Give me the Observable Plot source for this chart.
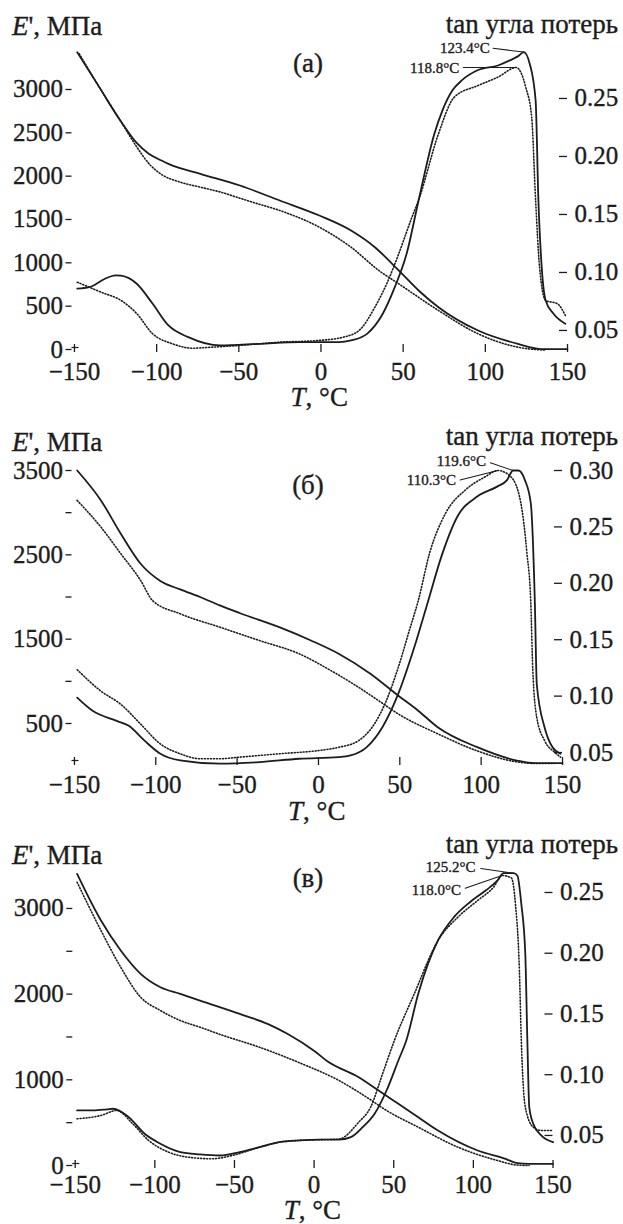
<!DOCTYPE html>
<html><head><meta charset="utf-8">
<script src="https://cdn.jsdelivr.net/npm/d3@7"></script>
<script src="https://cdn.jsdelivr.net/npm/@observablehq/plot@0.6"></script>
<style>
body{margin:0;background:#fff;}
#fig{position:relative;width:623px;height:1224px;font-family:"Liberation Serif","Times New Roman",serif;color:#1c1c1c;overflow:hidden;background:#fff}
.panel{position:absolute;left:0;width:623px}
.panel svg{position:absolute;left:0;top:0}
.panel svg text{stroke:#1c1c1c;stroke-width:0.35px}
.lbl{position:absolute;white-space:nowrap;line-height:1;font-size:27px;-webkit-text-stroke:0.35px #1c1c1c}
</style></head><body><div id="fig"></div>
<script>
// ---------- shared ticks ----------
const xTicks = [-150, -100, -50, 0, 50, 100, 150];

// ---------- panel (а) ----------
const a_E_solid = [[-148.3,3430],[-135,3030],[-121.7,2630],[-112,2380],[-104.8,2258],[-97,2180],[-92.8,2142],[-73.4,2027],[-49.3,1892],[-25.1,1719],[-1,1546],[18.3,1373],[32.8,1180],[47.3,912],[59.4,681],[71.5,488],[95.6,219],[119.8,65],[134.3,5],[150,5]];
const a_E_dot = [[-147.1,3412],[-135,3030],[-121.7,2630],[-112,2334],[-104,2130],[-97.6,2027],[-85.5,1930],[-73.4,1873],[-59,1805],[-51.7,1760],[-40,1690],[-25.1,1604],[-1,1411],[18.3,1180],[35.2,912],[47.3,758],[71.5,450],[95.6,181],[119.8,27],[130,0],[136,-5]];
const a_tan_solid = [[-148.3,0.086],[-141,0.0873],[-131.4,0.0946],[-125,0.0975],[-121.7,0.0972],[-112.1,0.0903],[-102.4,0.073],[-92.8,0.0543],[-80.7,0.0442],[-61.4,0.0371],[-37.2,0.0385],[-13.1,0.0399],[11.1,0.0399],[18.3,0.0414],[28,0.0471],[37.6,0.0644],[44.9,0.0873],[52.1,0.1161],[59.4,0.1621],[69,0.2196],[74,0.240],[80,0.257],[86,0.266],[95.6,0.2745],[107.7,0.2784],[114.9,0.2828],[120,0.2865],[123.4,0.290],[127,0.280],[130.6,0.2483],[132.3,0.162],[134.3,0.1046],[136.7,0.0759],[141.5,0.0644],[148.7,0.0558]];
const a_tan_dot = [[-148.3,0.0916],[-133.8,0.083],[-121.7,0.0759],[-112,0.0644],[-102.4,0.0471],[-90.3,0.0385],[-78.3,0.0347],[-66.2,0.0356],[-49.3,0.0371],[-25.1,0.0399],[-1,0.0414],[13.5,0.0442],[23.2,0.05],[32.8,0.0701],[40,0.0903],[47.3,0.1161],[54.6,0.1448],[60,0.165],[71.5,0.2196],[81.1,0.2511],[95.6,0.2612],[107.7,0.2684],[118.8,0.2767],[124.6,0.2597],[128.2,0.2339],[130.6,0.162],[133,0.1046],[136.7,0.0759],[143.9,0.073],[148.7,0.0629]];
const a_peaks = [{label:"123.4°C", T:123.4, v:0.290}, {label:"118.8°C", T:118.8, v:0.2767}];
const a_Eticks = [0, 500, 1000, 1500, 2000, 2500, 3000];
const a_Elabels = [0, 500, 1000, 1500, 2000, 2500, 3000];
const a_tanTicks = [0.05, 0.10, 0.15, 0.20, 0.25];

// ---------- panel (б) ----------
const b_E_solid = [[-148.3,3500],[-133.7,3145],[-121.5,2750],[-109.3,2394],[-97.2,2190],[-85,2090],[-72.8,2000],[-60.6,1900],[-48.5,1810],[-24.1,1642],[-4.6,1484],[12.4,1327],[31.9,1090],[48.9,832],[61.1,655],[73.3,456],[97.6,219],[122,61],[133,30],[150,30]];
const b_E_dot = [[-148.3,3145],[-133.7,2828],[-121.5,2513],[-109.3,2196],[-102,1959],[-85,1801],[-60.6,1642],[-36.3,1484],[-11.9,1327],[7.5,1129],[24.6,930],[36.8,773],[48.9,615],[73.3,378],[97.6,175],[122,45],[135,25],[145,25]];
const b_tan_solid = [[-148.3,0.0987],[-138.6,0.0868],[-124,0.0781],[-116.6,0.0737],[-106.9,0.0605],[-97.2,0.0489],[-85,0.043],[-60.6,0.0401],[-36.3,0.0415],[-11.9,0.0445],[12.4,0.0459],[19.7,0.0474],[29.5,0.0546],[39.2,0.0722],[48.9,0.1015],[58.7,0.1424],[67.2,0.1833],[75.7,0.2243],[85.5,0.2594],[97.6,0.2769],[109.8,0.2857],[115.9,0.2915],[119.6,0.300],[123,0.300],[126.9,0.2915],[130.5,0.2711],[133,0.1833],[134.2,0.1103],[139,0.0722],[143.9,0.0546],[148.8,0.0489]];
const b_tan_dot = [[-148.3,0.1234],[-133.7,0.1044],[-121.5,0.0927],[-109.3,0.0752],[-97.2,0.0576],[-85,0.0489],[-72.8,0.0445],[-60.6,0.0445],[-48.5,0.0459],[-24.1,0.0489],[0.2,0.0518],[12.4,0.0546],[24.6,0.0605],[34.3,0.0752],[41.6,0.0956],[48.9,0.1248],[56.2,0.1599],[61.1,0.1833],[68.4,0.2272],[78.2,0.2623],[90.3,0.2827],[102.5,0.2944],[110.3,0.300],[118.3,0.2944],[124.4,0.2711],[128.1,0.2272],[130.5,0.1833],[131.7,0.1248],[134.2,0.081],[139,0.0605],[145.1,0.0503],[148.8,0.0459]];
const b_peaks = [{label:"119.6°C", T:119.6, v:0.300}, {label:"110.3°C", T:110.3, v:0.300}];
const b_Eticks = [500, 1000, 1500, 2000, 2500, 3000, 3500];
const b_Elabels = [500, 1500, 2500, 3500];
const b_tanTicks = [0.05, 0.10, 0.15, 0.20, 0.25, 0.30];

// ---------- panel (в) ----------
const c_E_solid = [[-148.8,3404],[-133.8,2859],[-121.4,2509],[-108.9,2237],[-96.5,2081],[-84,2003],[-71.6,1925],[-46.7,1770],[-29.2,1653],[-16.8,1537],[0.6,1330],[8.1,1220],[28,1030],[40.5,875],[52.9,720],[65.4,564],[77.8,408],[102.7,175],[120.2,78],[127.6,27],[135,20],[150,20]];
const c_E_dot = [[-148.8,3306],[-133.8,2742],[-121.4,2314],[-108.9,1964],[-96.5,1809],[-84,1692],[-71.6,1614],[-59.1,1530],[-34.2,1380],[-9.3,1200],[15.6,992],[33,797],[45.5,642],[65.4,447],[90.3,214],[115.2,58],[127.6,5],[135,0]];
const c_tan_solid = [[-148.8,0.0706],[-138.8,0.0706],[-130,0.0715],[-126.3,0.072],[-116.4,0.0651],[-106.4,0.0514],[-96.5,0.0432],[-84,0.0363],[-71.6,0.0344],[-59.1,0.0335],[-46.7,0.0363],[-34.2,0.0404],[-21.8,0.0445],[-9.3,0.0459],[3.1,0.0465],[15.6,0.0465],[23.1,0.0486],[30.5,0.0568],[38,0.0679],[45.5,0.087],[52.9,0.1117],[57.9,0.1282],[65.4,0.1666],[77.8,0.2105],[87.8,0.2297],[97.8,0.242],[107.7,0.2516],[115.2,0.2599],[118.9,0.2659],[125.2,0.2659],[127.6,0.264],[130.1,0.2407],[132.6,0.1995],[133.9,0.1282],[135.1,0.0733],[137.6,0.0596],[142.6,0.05],[150,0.0445]];
const c_tan_dot = [[-148.8,0.0637],[-133.8,0.0665],[-123.9,0.0706],[-113.9,0.0596],[-103.9,0.0459],[-91.5,0.0363],[-79,0.0321],[-64.1,0.0308],[-50,0.034],[-34.2,0.0404],[-21.8,0.0445],[-9.3,0.0459],[3.1,0.0465],[15.6,0.047],[28,0.0609],[35.5,0.0733],[43,0.1008],[50.4,0.1282],[62.9,0.1666],[77.8,0.2105],[90.3,0.2297],[102.7,0.2434],[112.7,0.2544],[118,0.264],[123.9,0.262],[126.4,0.2407],[128.9,0.1858],[130.1,0.1282],[132.6,0.0733],[137.6,0.0568],[142.6,0.0541],[150,0.0541]];
const c_peaks = [{label:"125.2°C", T:125.2, v:0.2659}, {label:"118.0°C", T:118.0, v:0.264}];
const c_Eticks = [0, 500, 1000, 1500, 2000, 2500, 3000];
const c_Elabels = [0, 1000, 2000, 3000];
const c_tanTicks = [0.05, 0.10, 0.15, 0.20, 0.25];

// ---------- layout / style ----------
const FONT = '"Liberation Serif","Times New Roman",serif';
const INK = "#1c1c1c";
const TITLE_PX = 27;
const LEADER = {draw(ctx, l) { ctx.moveTo(0, 0); ctx.lineTo(0, -l); }};
const X0 = -151.5; // axis line sits just left of the −150 tick

const panels = [
  {letter:"(а)", top:0, h:410, mt:46, bottom:352, ml:71.5, right:567, xPad:10,
   eDom:[-34.6, 3496], tDom:[0.0310, 0.2948],
   Es:a_E_solid, Ed:a_E_dot, Ts:a_tan_solid, Td:a_tan_dot, peaks:a_peaks,
   eTicks:a_Eticks, eLabels:a_Elabels, tTicks:a_tanTicks,
   lead:[{dx:-34, dy:-4, len:31, rot:-83}, {dx:-57, dy:1, len:53, rot:-90}],
   lab:{eBase:36, letterBase:73, tanBase:34, tBase:407}},
  {letter:"(б)", top:410, h:410, mt:60, bottom:355, ml:71.5, right:562, xPad:10,
   eDom:[2, 3500], tDom:[0.0385, 0.300],
   Es:b_E_solid, Ed:b_E_dot, Ts:b_tan_solid, Td:b_tan_dot, peaks:b_peaks,
   eTicks:b_Eticks, eLabels:b_Elabels, tTicks:b_tanTicks,
   lead:[{dx:-27, dy:-9, len:24, rot:-71}, {dx:-42, dy:10, len:39, rot:-104}],
   lab:{eBase:42, letterBase:85, tanBase:36, tBase:411}},
  {letter:"(в)", top:820, h:404, mt:50, bottom:348, ml:72.3, right:552.5, xPad:7,
   eDom:[-35, 3443], tDom:[0.0228, 0.2681],
   Es:c_E_solid, Ed:c_E_dot, Ts:c_tan_solid, Td:c_tan_dot, peaks:c_peaks,
   eTicks:c_Eticks, eLabels:c_Elabels, tTicks:c_tanTicks,
   lead:[{dx:-38, dy:-6, len:33, rot:-82}, {dx:-41, dy:15, len:39, rot:-109}],
   lab:{eBase:45, letterBase:68, tanBase:34, tBase:400}}
];

const fmtX = d => d < 0 ? "\u2212" + Math.abs(d) : String(d);
const fig = document.getElementById("fig");

function addLabel(div, html, css) {
  const el = document.createElement("div");
  el.className = "lbl";
  el.innerHTML = html;
  Object.assign(el.style, css);
  div.appendChild(el);
  return el;
}

for (const p of panels) {
  const div = document.createElement("div");
  div.className = "panel";
  div.style.top = p.top + "px";
  div.style.height = p.h + "px";
  fig.appendChild(div);

  const innerH = p.bottom - p.mt, innerW = p.right - p.ml;
  const common = {
    width: 623, height: p.h,
    marginTop: p.mt, marginBottom: p.h - p.bottom, marginLeft: p.ml, marginRight: 623 - p.right,
    style: {background: "transparent", fontFamily: FONT, fontSize: "25px", color: INK, overflow: "visible"}
  };
  const lineOpts = {x: d => d[0], y: d => d[1], curve: "monotone-x", stroke: INK};
  const crossY = p.eDom[0] + 5 * (p.eDom[1] - p.eDom[0]) / innerH;

  const leftSvg = Plot.plot({
    ...common,
    x: {domain: [X0, 150]},
    y: {domain: p.eDom},
    marks: [
      Plot.axisY({ticks: p.eTicks, anchor: "left", tickSize: 6, tickPadding: 3, line: true, stroke: INK, strokeWidth: 1.3,
        fontSize: 25, tickFormat: d => p.eLabels.includes(d) ? String(d) : "", label: null}),
      Plot.axisX({ticks: xTicks, anchor: "bottom", tickSize: 0, tickPadding: p.xPad, line: true, stroke: INK, strokeWidth: 1.3,
        fontSize: 25, tickFormat: fmtX, label: null}),
      Plot.tickX(xTicks, {x: d => d, insetTop: innerH - 8, stroke: INK, strokeWidth: 1.3}),
      Plot.tickY([crossY], {y: d => d, insetRight: innerW - 7, stroke: INK, strokeWidth: 1.2}),
      Plot.line(p.Es, {...lineOpts, strokeWidth: 1.8}),
      Plot.line(p.Ed, {...lineOpts, strokeWidth: 1.6, strokeDasharray: "1 2"})
    ]
  });

  const annMarks = [];
  p.peaks.forEach((pk, i) => {
    const s = p.lead[i];
    annMarks.push(Plot.vector([pk], {x: "T", y: "v", length: s.len, rotate: s.rot, anchor: "start",
      shape: LEADER, stroke: INK, strokeWidth: 1}));
    annMarks.push(Plot.text([pk], {x: "T", y: "v", text: "label", dx: s.dx, dy: s.dy, textAnchor: "end",
      fontSize: 15, fontFamily: FONT, fill: INK}));
  });

  const rightSvg = Plot.plot({
    ...common,
    x: {domain: [X0, 150], axis: null},
    y: {domain: p.tDom},
    marks: [
      Plot.axisY({ticks: p.tTicks, anchor: "right", tickSize: 0, tickPadding: 7, line: true, stroke: INK, strokeWidth: 1.3,
        fontSize: 25, tickFormat: d3.format(".2f"), label: null}),
      Plot.tickY(p.tTicks, {y: d => d, insetLeft: innerW - 8, stroke: INK, strokeWidth: 1.3}),
      Plot.line(p.Ts, {...lineOpts, strokeWidth: 1.8}),
      Plot.line(p.Td, {...lineOpts, strokeWidth: 1.6, strokeDasharray: "1 2"}),
      ...annMarks
    ]
  });

  div.appendChild(leftSvg);
  div.appendChild(rightSvg);

  const B = 0.8375 * TITLE_PX; // baseline offset for line-height 1
  addLabel(div, "<i>E</i>', МПа", {left: "12px", top: (p.lab.eBase - B) + "px"});
  addLabel(div, "tan угла потерь", {right: "5px", top: (p.lab.tanBase - B) + "px"});
  addLabel(div, p.letter, {left: "308px", top: (p.lab.letterBase - B) + "px", transform: "translateX(-50%)"});
  const cx = (p.ml + p.right) / 2;
  addLabel(div, "<i>T</i>, °C", {left: cx + "px", top: (p.lab.tBase - B) + "px", transform: "translateX(-50%)"});
}
</script></body></html>
